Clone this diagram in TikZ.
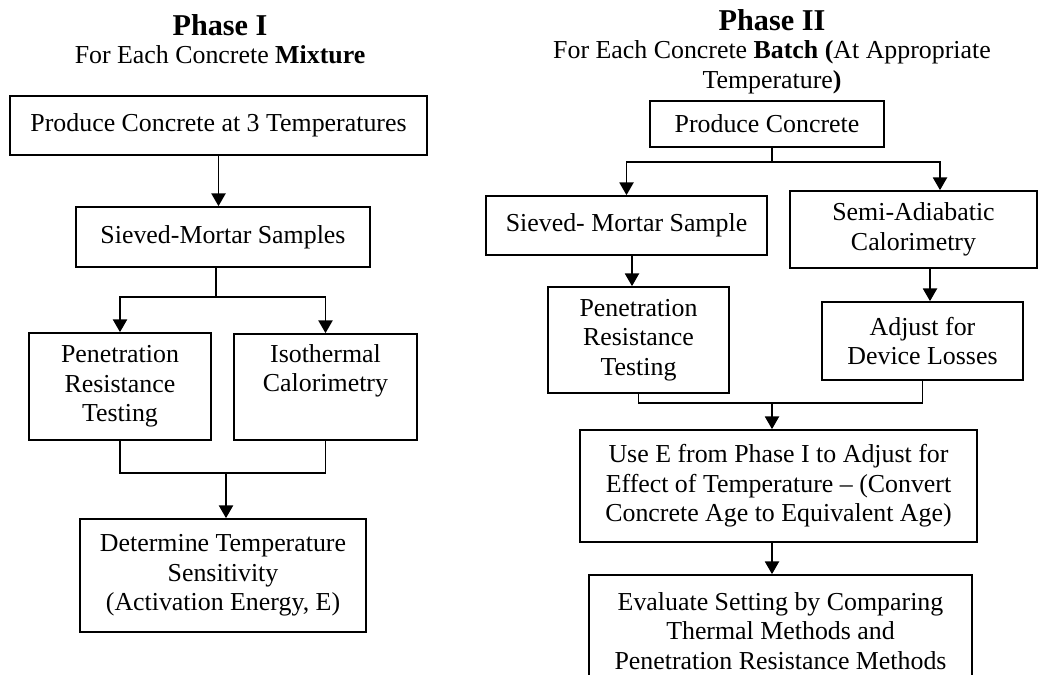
\documentclass[tikz,border=0pt]{standalone}
\usepackage{fontspec}
\setmainfont{Liberation Serif}
\usetikzlibrary{positioning,arrows.meta,calc}

\begin{document}
\begin{tikzpicture}[x=0.025cm,y=-0.025cm,>={Triangle[width=10pt,length=9pt]},line width=1.2pt,
    box/.style={draw,align=center,inner sep=2pt,font=\fontsize{18.4}{21}\selectfont},
    head/.style={align=center,font=\fontsize{18.4}{21}\selectfont},
    phase/.style={font=\fontsize{21.5}{25}\selectfont\bfseries}]
  \useasboundingbox (0,0) rectangle (1040,675);
  \clip (0,0) rectangle (1040,675);

  % Phase I: one mixture at three temperatures
  \node[phase] (ph1) at (220,25) {Phase I};
  \node[head] (ph1sub) at (220,55) {For Each Concrete \textbf{Mixture}};
  \node[box,minimum width=10.425cm,minimum height=1.475cm] (mix) at (218.5,125.5) {Produce Concrete at 3 Temperatures};
  \node[box,minimum width=7.35cm,minimum height=1.5cm] (sms) at (223,237) {Sieved-Mortar Samples};
  \node[box,minimum width=4.55cm,minimum height=2.675cm] (pen) at (120,386.5) {Penetration\\Resistance\\Testing};
  \node[box,minimum width=4.575cm,minimum height=2.65cm] (iso) at (325.5,387) {Isothermal\\Calorimetry\\\strut};
  \node[box,minimum width=7.15cm,minimum height=2.825cm] (det) at (223,575.5) {Determine Temperature\\Sensitivity\\ (Activation Energy, E)};
  \coordinate (sp1) at (216,297);
  \coordinate (jn1) at (226,473);
  \draw[->] (mix.south) -- (mix.south |- sms.north);
  \draw (sms.south -| sp1) -- (sp1);
  \draw[->] (sp1) -| (pen);
  \draw[->] (sp1) -| (iso);
  \draw (pen.south) |- (jn1);
  \draw (iso.south) |- (jn1);
  \draw[->] (jn1) -- (jn1 |- det.north);

  % Phase II: every batch
  \node[phase] (ph2) at (772,20) {Phase II};
  \node[head] (ph2sub) at (772,67.5) {For Each Concrete \textbf{Batch (}At Appropriate\\Temperature\textbf{)}};
  \node[box,minimum width=5.85cm,minimum height=1.15cm] (pc2) at (767,124) {Produce Concrete};
  \node[box,minimum width=7.025cm,minimum height=1.475cm] (svm) at (626.5,225.5) {Sieved- Mortar Sample};
  \node[box,minimum width=6.175cm,minimum height=1.925cm] (sac) at (913.5,229.5) {Semi-Adiabatic\\Calorimetry};
  \node[box,minimum width=4.525cm,minimum height=2.65cm] (prt) at (638.5,340) {Penetration\\Resistance\\Testing};
  \node[box,minimum width=5.025cm,minimum height=1.95cm] (adl) at (922.5,341) {Adjust for\\Device Losses};
  \node[box,minimum width=9.925cm,minimum height=2.8cm] (usee) at (778.5,486) {Use E from Phase I to Adjust for\\Effect of Temperature -- (Convert\\Concrete Age to Equivalent Age)};
  \node[box,minimum width=9.575cm,minimum height=2.8cm] (evs) at (780.5,631) {Evaluate Setting by Comparing\\Thermal Methods and\\Penetration Resistance Methods};
  \coordinate (sp2) at (772,162);
  \coordinate (jn2) at (772,403);
  \coordinate (a2) at ($(svm.south)+(5.5,0)$);
  \coordinate (a3) at ($(sac.south)+(16.5,0)$);
  \draw (pc2.south -| sp2) -- (sp2);
  \draw[->] (sp2) -| (svm);
  \draw[->] (sp2) -| ($(sac.north)+(26.5,0)$);
  \draw[->] (a2) -- (a2 |- prt.north);
  \draw[->] (a3) -- (a3 |- adl.north);
  \draw (prt.south) |- (jn2);
  \draw (adl.south) |- (jn2);
  \draw[->] (jn2) -- (jn2 |- usee.north);
  \draw[->] (usee.south -| jn2) -- (evs.north -| jn2);
\end{tikzpicture}
\end{document}
